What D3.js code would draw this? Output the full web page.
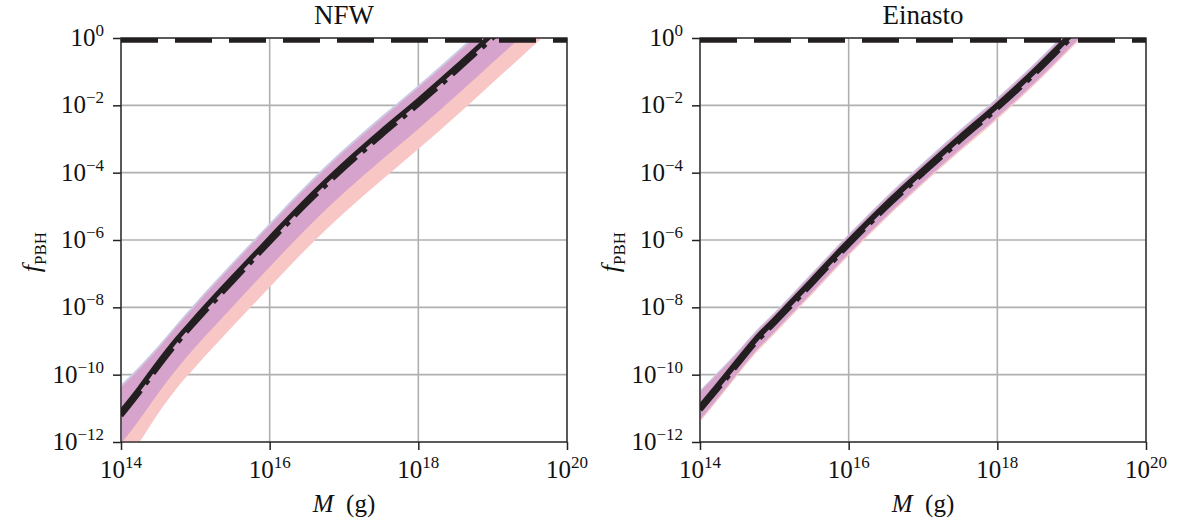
<!DOCTYPE html>
<html>
<head>
<meta charset="utf-8">
<script src="https://cdn.jsdelivr.net/npm/d3@7"></script>
<style>
  body { margin: 0; background: #fff; }
</style>
</head>
<body>
<script>
// log10 of mass (g) where curves were read
const massExp = [14.0, 14.25, 14.5, 14.75, 15.0, 15.5, 16.0, 16.5, 17.0, 17.5, 18.0, 18.5, 19.0, 19.5, 20.0];

// NFW panel, log10 f_PBH
const nfwSolid   = [-11.1, -10.4, -9.65, -8.95, -8.32, -7.12, -5.95, -4.8, -3.75, -2.78, -1.85, -0.88, 0.12, 1.12, 2.12];
const nfwDashDot = [-11.22, -10.52, -9.77, -9.07, -8.44, -7.24, -6.07, -4.92, -3.87, -2.9, -1.97, -1.0, 0.0, 1.0, 2.0];
const nfwBlueHi  = [-10.3, -9.75, -9.15, -8.5, -7.87, -6.67, -5.5, -4.35, -3.3, -2.33, -1.4, -0.43, 0.57, 1.57, 2.57];
const nfwBlueLo  = [-12.05, -11.33, -10.55, -9.83, -9.18, -7.98, -6.8, -5.65, -4.6, -3.63, -2.7, -1.73, -0.73, 0.27, 1.27];
const nfwRedHi   = [-10.38, -9.83, -9.23, -8.58, -7.95, -6.75, -5.58, -4.43, -3.38, -2.41, -1.48, -0.51, 0.49, 1.49, 2.49];
const nfwRedLo   = [-12.8, -12.0, -11.15, -10.4, -9.77, -8.57, -7.4, -6.25, -5.2, -4.23, -3.3, -2.33, -1.33, -0.33, 0.67];

// Einasto panel, log10 f_PBH
const einSolid   = [-10.96, -10.3, -9.62, -8.95, -8.38, -7.22, -6.05, -4.95, -3.93, -2.95, -2.0, -0.98, 0.12, 1.22, 2.32];
const einDashDot = [-11.04, -10.38, -9.7, -9.03, -8.46, -7.3, -6.13, -5.03, -4.01, -3.03, -2.08, -1.06, 0.04, 1.14, 2.24];
const einBlueHi  = [-10.46, -9.9, -9.32, -8.7, -8.15, -6.99, -5.82, -4.72, -3.7, -2.72, -1.77, -0.75, 0.35, 1.45, 2.55];
const einBlueLo  = [-11.34, -10.66, -9.97, -9.3, -8.73, -7.57, -6.4, -5.3, -4.28, -3.3, -2.35, -1.33, -0.23, 0.87, 1.97];
const einRedHi   = [-10.51, -9.95, -9.37, -8.75, -8.2, -7.04, -5.87, -4.77, -3.75, -2.77, -1.82, -0.8, 0.3, 1.4, 2.5];
const einRedLo   = [-11.4, -10.72, -10.03, -9.36, -8.79, -7.63, -6.46, -5.36, -4.34, -3.36, -2.41, -1.39, -0.29, 0.81, 1.91];

const xTickExp = [14, 16, 18, 20];
const yTickExp = [0, -2, -4, -6, -8, -10, -12];
const titles = ["NFW", "Einasto"];

const FONT = "'Liberation Serif', 'DejaVu Serif', serif";

const svg = d3.select("body").append("svg")
  .attr("width", 1181)
  .attr("height", 524);

const panels = [
  { x0: 121, title: titles[0], solid: nfwSolid, dashDot: nfwDashDot, lw: 4.8,
    blueHi: nfwBlueHi, blueLo: nfwBlueLo, redHi: nfwRedHi, redLo: nfwRedLo },
  { x0: 700, title: titles[1], solid: einSolid, dashDot: einDashDot, lw: 5.6,
    blueHi: einBlueHi, blueLo: einBlueLo, redHi: einRedHi, redLo: einRedLo }
];

const W = 446, yTop = 38, yBot = 442;

panels.forEach((p, i) => drawPanel(p, i));

function addText(parent) {
  return parent.append("text").attr("font-family", FONT).attr("fill", "#111");
}

function drawPanel(p, i) {
  const x = d3.scaleLog().domain([1e14, 1e20]).range([p.x0, p.x0 + W]);
  const y = d3.scaleLog().domain([1e-12, 1]).range([yBot, yTop]);
  const g = svg.append("g");

  // grid
  g.selectAll(".gx").data(xTickExp).enter().append("line")
    .attr("x1", d => x(Math.pow(10, d))).attr("x2", d => x(Math.pow(10, d)))
    .attr("y1", yTop).attr("y2", yBot)
    .attr("stroke", "#b0b0b0").attr("stroke-width", 1.6);
  g.selectAll(".gy").data(yTickExp).enter().append("line")
    .attr("y1", d => y(Math.pow(10, d))).attr("y2", d => y(Math.pow(10, d)))
    .attr("x1", p.x0).attr("x2", p.x0 + W)
    .attr("stroke", "#b0b0b0").attr("stroke-width", 1.6);

  const clipId = "clip" + i;
  svg.append("clipPath").attr("id", clipId).append("rect")
    .attr("x", p.x0).attr("y", yTop).attr("width", W).attr("height", yBot - yTop);
  const data = g.append("g").attr("clip-path", "url(#" + clipId + ")");

  const pts = (lo, hi) => massExp.map((m, k) => ({ m: m, lo: lo[k], hi: hi[k] }));
  const area = d3.area()
    .curve(d3.curveMonotoneX)
    .x(d => x(Math.pow(10, d.m)))
    .y0(d => y(Math.pow(10, d.lo)))
    .y1(d => y(Math.pow(10, d.hi)));

  // bands: blue only, red only, overlap
  data.append("path").datum(pts(p.blueLo, p.blueHi)).attr("d", area).attr("fill", "#c8c9e6");
  data.append("path").datum(pts(p.redLo, p.redHi)).attr("d", area).attr("fill", "#f9c6c6");
  data.append("path").datum(pts(p.blueLo, p.redHi)).attr("d", area).attr("fill", "#d5a3cb");

  const line = d3.line()
    .curve(d3.curveMonotoneX)
    .x(d => x(Math.pow(10, d.m)))
    .y(d => y(Math.pow(10, d.v)));
  const ser = arr => massExp.map((m, k) => ({ m: m, v: arr[k] }));

  data.append("path").datum(ser(p.solid)).attr("d", line)
    .attr("fill", "none").attr("stroke", "#231f20").attr("stroke-width", p.lw);
  data.append("path").datum(ser(p.dashDot)).attr("d", line)
    .attr("fill", "none").attr("stroke", "#231f20").attr("stroke-width", p.lw)
    .attr("stroke-dasharray", "32,8,5,8");

  // f = 1 dashed line
  data.append("line")
    .attr("x1", x(1e14)).attr("x2", x(1e20))
    .attr("y1", y(1)).attr("y2", y(1))
    .attr("stroke", "#231f20").attr("stroke-width", 9.5)
    .attr("stroke-dasharray", "37,17");

  // spines
  g.append("rect").attr("x", p.x0).attr("y", yTop).attr("width", W).attr("height", yBot - yTop)
    .attr("fill", "none").attr("stroke", "#222").attr("stroke-width", 1.3);

  // axes
  const xAxis = d3.axisBottom(x).tickValues(xTickExp.map(d => Math.pow(10, d)))
    .tickSize(8).tickFormat("");
  const gx = g.append("g").attr("transform", "translate(0," + yBot + ")").call(xAxis);
  const yAxis = d3.axisLeft(y).tickValues(yTickExp.map(d => Math.pow(10, d)))
    .tickSize(8).tickFormat("");
  const gy = g.append("g").attr("transform", "translate(" + p.x0 + ",0)").call(yAxis);
  [gx, gy].forEach(a => {
    a.select(".domain").remove();
    a.selectAll(".tick line").attr("stroke", "#222").attr("stroke-width", 1.5);
  });

  // tick labels as 10^n
  xTickExp.forEach(e => {
    const t = addText(g)
      .attr("x", x(Math.pow(10, e))).attr("y", 478)
      .attr("text-anchor", "middle").attr("font-size", 25);
    t.append("tspan").text("10");
    t.append("tspan").attr("dy", -10).attr("font-size", 17).text(e);
  });
  yTickExp.forEach(e => {
    const t = addText(g)
      .attr("x", p.x0 - 17).attr("y", y(Math.pow(10, e)) + 8)
      .attr("text-anchor", "end").attr("font-size", 25);
    t.append("tspan").text("10");
    t.append("tspan").attr("dy", -10).attr("font-size", 17)
      .text(e < 0 ? "\u2212" + (-e) : e);
  });

  // axis labels and title
  const xl = addText(g).attr("x", p.x0 + W / 2).attr("y", 512)
    .attr("text-anchor", "middle").attr("font-size", 25);
  xl.append("tspan").attr("font-style", "italic").text("M");
  xl.append("tspan").text("\u2002(g)");

  const yl = addText(g)
    .attr("transform", "translate(" + (p.x0 - 81) + "," + 252 + ") rotate(-90)")
    .attr("text-anchor", "middle").attr("font-size", 26);
  yl.append("tspan").attr("font-style", "italic").text("f");
  yl.append("tspan").attr("dy", 6).attr("font-size", 17).text("PBH");

  addText(g).attr("x", p.x0 + W / 2).attr("y", 24)
    .attr("text-anchor", "middle").attr("font-size", 27).text(p.title);
}
</script>
</body>
</html>
